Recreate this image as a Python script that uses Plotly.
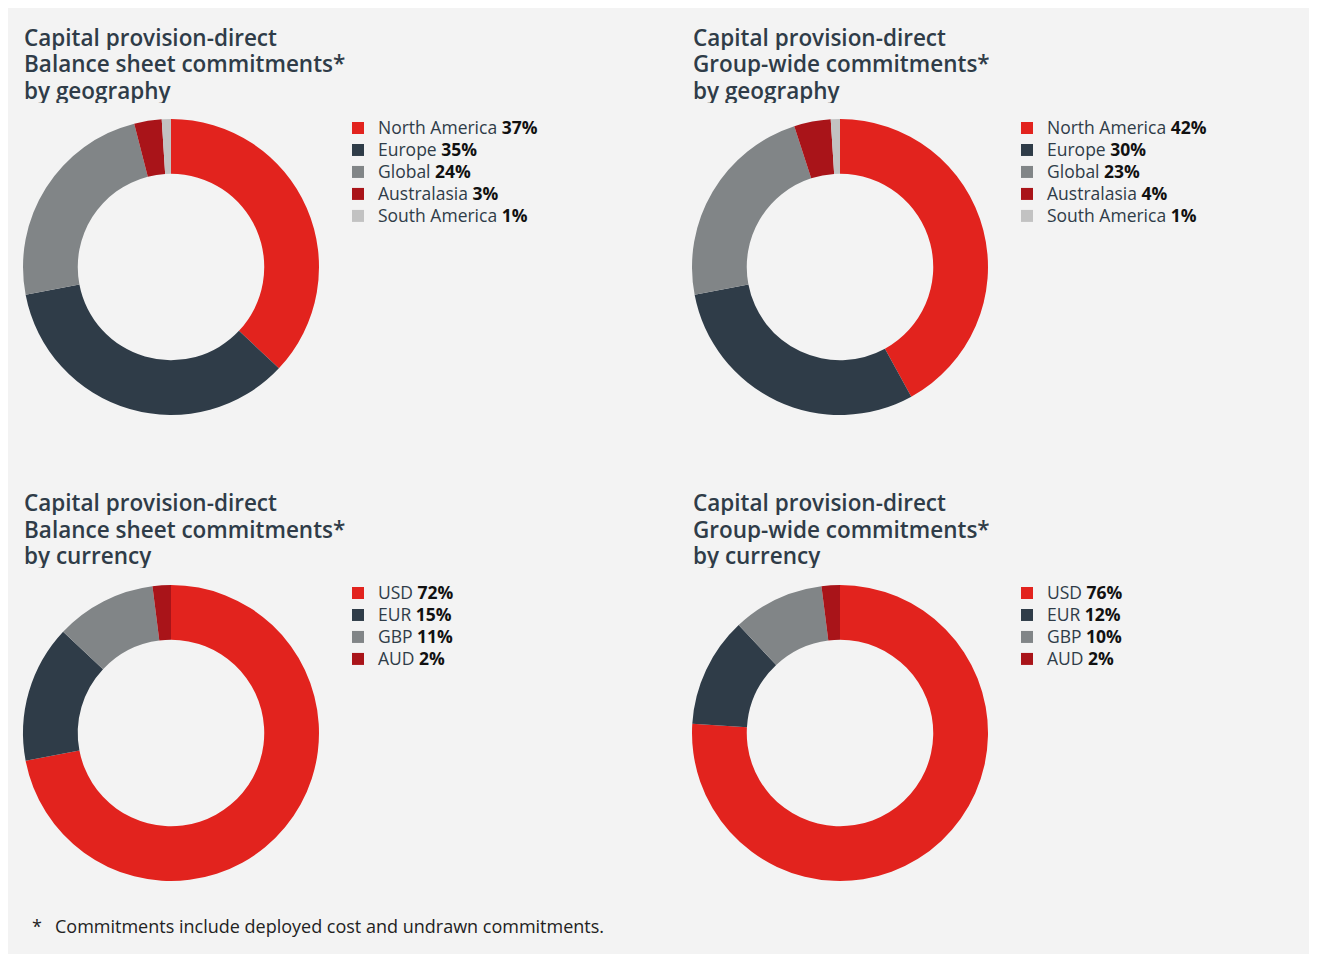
import plotly.graph_objects as go

# figure sits in the page at an 8px body margin; all positions below are page pixels
OX, OY = 8, 8
W, H = 1309, 946

geo_labels = ["North America", "Europe", "Global", "Australasia", "South America"]
geo_bs_values = [37, 35, 24, 3, 1]
geo_gw_values = [42, 30, 23, 4, 1]

cur_labels = ["USD", "EUR", "GBP", "AUD"]
cur_bs_values = [72, 15, 11, 2]
cur_gw_values = [76, 12, 10, 2]

geo_colors = ["#e2231e", "#2f3c48", "#818587", "#a91419", "#c2c2c2"]
cur_colors = ["#e2231e", "#2f3c48", "#818587", "#a91419"]

titles = [
    ["Capital provision-direct", "Balance sheet commitments*", "by geography"],
    ["Capital provision-direct", "Group-wide commitments*", "by geography"],
    ["Capital provision-direct", "Balance sheet commitments*", "by currency"],
    ["Capital provision-direct", "Group-wide commitments*", "by currency"],
]
footnote = "Commitments include deployed cost and undrawn commitments."

FONT = "Open Sans"
TEXT = "#2f3c48"

panels = [
    dict(cx=171, cy=267, tx=22, ty=37, lx=338, ly=112),
    dict(cx=840, cy=267, tx=691, ty=37, lx=1007, ly=112),
    dict(cx=171, cy=733, tx=22, ty=502, lx=338, ly=577),
    dict(cx=840, cy=733, tx=691, ty=502, lx=1007, ly=577),
]
R = 148


def px(x):
    return (x - OX) / W


def py(y):
    return 1 - (y - OY) / H


series = [
    (geo_labels, geo_bs_values, geo_colors),
    (geo_labels, geo_gw_values, geo_colors),
    (cur_labels, cur_bs_values, cur_colors),
    (cur_labels, cur_gw_values, cur_colors),
]

fig = go.Figure()
legend_names = ["legend", "legend2", "legend3", "legend4"]

for i, ((labels, values, colors), p) in enumerate(zip(series, panels)):
    names = [
        f"<span style='font-size:17.5px'>{l} <b><span style='color:#111111'>{v}%</span></b></span>" + "\u200b" * i
        for l, v in zip(labels, values)
    ]
    fig.add_trace(go.Pie(
        labels=names,
        values=values,
        hole=0.63,
        sort=False,
        direction="clockwise",
        rotation=0,
        textinfo="none",
        hoverinfo="label",
        marker=dict(colors=colors, line=dict(width=0)),
        domain=dict(x=[px(p["cx"] - R), px(p["cx"] + R)],
                    y=[py(p["cy"] + R), py(p["cy"] - R)]),
        legend=legend_names[i],
        showlegend=True,
    ))

layout_legends = {}
for i, p in enumerate(panels):
    layout_legends[legend_names[i]] = dict(
        x=px(p["lx"]), y=py(p["ly"]), xanchor="left", yanchor="top",
        bgcolor="rgba(0,0,0,0)", borderwidth=0,
        font=dict(family=FONT, size=14.6, color=TEXT),
        itemclick=False, itemdoubleclick=False,
        tracegroupgap=0, itemwidth=30,
    )

annotations = []
for t, p in zip(titles, panels):
    for j, line in enumerate(t):
        annotations.append(dict(
            text=line, x=px(p["tx"]), y=py(p["ty"] + j * 26.5),
            xref="paper", yref="paper", xanchor="left", yanchor="middle",
            height=26, valign="middle",
            showarrow=False, font=dict(family=FONT, size=22.5, color=TEXT, weight=600),
        ))
annotations.append(dict(
    text="*", x=px(30), y=py(926), xref="paper", yref="paper",
    xanchor="left", yanchor="middle", showarrow=False,
    font=dict(family=FONT, size=18, color="#222222"),
))
annotations.append(dict(
    text=footnote, x=px(53), y=py(926), xref="paper", yref="paper",
    xanchor="left", yanchor="middle", showarrow=False,
    font=dict(family=FONT, size=18, color="#222222"),
))

fig.update_layout(
    width=W, height=H,
    margin=dict(l=0, r=0, t=0, b=0),
    paper_bgcolor="#f3f3f3",
    plot_bgcolor="#f3f3f3",
    annotations=annotations,
    **layout_legends,
)

fig.write_html("out.html", config={"displayModeBar": False})
